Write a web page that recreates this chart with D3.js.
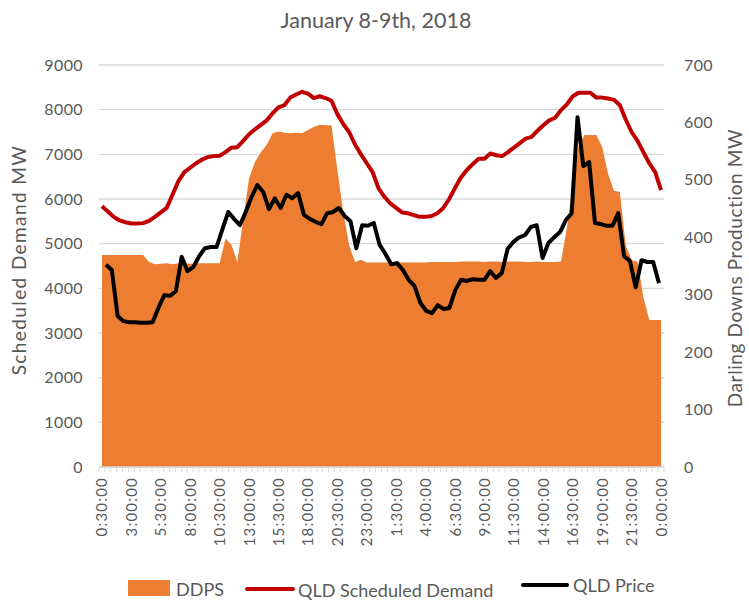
<!DOCTYPE html>
<html>
<head>
<meta charset="utf-8">
<script src="https://cdn.jsdelivr.net/npm/d3@7"></script>
<style>
  html, body { margin: 0; padding: 0; background: #ffffff; }
  svg { display: block; font-family: "Lato", "Open Sans", sans-serif; }
</style>
</head>
<body>
<svg id="chart" width="749" height="600"></svg>
<script>
const categories = [
  "0:30:00","1:00:00","1:30:00","2:00:00","2:30:00","3:00:00","3:30:00","4:00:00","4:30:00","5:00:00",
  "5:30:00","6:00:00","6:30:00","7:00:00","7:30:00","8:00:00","8:30:00","9:00:00","9:30:00","10:00:00",
  "10:30:00","11:00:00","11:30:00","12:00:00","12:30:00","13:00:00","13:30:00","14:00:00","14:30:00","15:00:00",
  "15:30:00","16:00:00","16:30:00","17:00:00","17:30:00","18:00:00","18:30:00","19:00:00","19:30:00","20:00:00",
  "20:30:00","21:00:00","21:30:00","22:00:00","22:30:00","23:00:00","23:30:00","0:00:00","0:30:00","1:00:00",
  "1:30:00","2:00:00","2:30:00","3:00:00","3:30:00","4:00:00","4:30:00","5:00:00","5:30:00","6:00:00",
  "6:30:00","7:00:00","7:30:00","8:00:00","8:30:00","9:00:00","9:30:00","10:00:00","10:30:00","11:00:00",
  "11:30:00","12:00:00","12:30:00","13:00:00","13:30:00","14:00:00","14:30:00","15:00:00","15:30:00","16:00:00",
  "16:30:00","17:00:00","17:30:00","18:00:00","18:30:00","19:00:00","19:30:00","20:00:00","20:30:00","21:00:00",
  "21:30:00","22:00:00","22:30:00","23:00:00","23:30:00","0:00:00"
];

// Darling Downs Power Station output (MW, right axis)
const ddps = [
  369,369,369,369,369,369,369,369,357,353,
  354,355,353,355,355,354,355,355,355,355,
  355,398,387,357,430,503,531,548,561,581,
  584,582,581,582,581,587,592,596,595,595,
  517,444,386,357,361,356,356,356,356,356,
  356,356,356,356,356,356,357,357,357,357,
  357,358,358,358,358,357,358,358,357,358,
  358,358,357,357,358,357,357,357,358,416,
  491,560,578,578,578,557,510,481,479,386,
  360,358,296,256,256,256
];

// QLD scheduled demand (MW, left axis)
const demand = [
  5840,5720,5600,5520,5480,5450,5450,5460,5510,5600,
  5700,5800,6100,6400,6600,6700,6800,6880,6940,6960,
  6970,7050,7150,7160,7300,7450,7560,7660,7760,7920,
  8050,8100,8270,8340,8400,8360,8260,8300,8260,8200,
  7900,7680,7500,7220,7000,6800,6600,6240,6050,5900,
  5800,5700,5680,5640,5600,5600,5620,5680,5800,6000,
  6250,6480,6650,6780,6900,6900,7020,6980,6960,7050,
  7150,7250,7350,7390,7530,7650,7760,7820,7990,8120,
  8300,8380,8380,8380,8270,8270,8250,8220,8100,7780,
  7500,7300,7050,6800,6600,6200
];

// QLD price (plotted against the secondary axis)
const price = [
  352,343,263,254,252,252,251,251,252,277,
  299,298,306,366,341,348,367,381,383,383,
  414,444,432,421,444,470,491,479,449,468,
  451,474,468,477,439,432,427,423,442,444,
  451,437,428,381,421,420,425,387,371,353,
  355,343,326,315,286,272,268,282,275,277,
  308,326,324,327,326,326,341,329,338,380,
  392,400,404,418,421,364,390,400,409,430,
  442,609,524,531,425,423,420,420,442,367,
  359,313,360,357,357,320
];

const leftTicks = [0,1000,2000,3000,4000,5000,6000,7000,8000,9000];
const rightTicks = [0,100,200,300,400,500,600,700];
const labelEvery = 5;

const svg = d3.select("#chart");
const plot = {left: 99, right: 664, top: 65, bottom: 467};
const textColor = "#595959";

const idx = d3.range(categories.length);
const x = d3.scaleBand().domain(idx).range([plot.left, plot.right]);
const cx = i => x(i) + x.bandwidth() / 2;
const xp = d3.scalePoint().domain(idx).range([106, 659]);
const yL = d3.scaleLinear().domain([0, 9000]).range([plot.bottom, plot.top]);
const yR = d3.scaleLinear().domain([0, 700]).range([plot.bottom, plot.top]);

// gridlines
svg.append("g").selectAll("line").data(leftTicks).join("line")
  .attr("x1", plot.left).attr("x2", plot.right)
  .attr("y1", d => yL(d)).attr("y2", d => yL(d))
  .attr("stroke", "#d9d9d9").attr("stroke-width", 1.3);

// area
svg.append("path").datum(ddps)
  .attr("d", d3.area().x((d, i) => cx(i)).y0(plot.bottom).y1(d => yR(d)))
  .attr("fill", "#ED7D31");

// x axis line and ticks
svg.append("line").attr("x1", plot.left).attr("x2", plot.right)
  .attr("y1", plot.bottom).attr("y2", plot.bottom)
  .attr("stroke", "#d9d9d9").attr("stroke-width", 1.3);
svg.append("g").selectAll("line").data(d3.range(categories.length + 1)).join("line")
  .attr("x1", i => plot.left + i * x.bandwidth()).attr("x2", i => plot.left + i * x.bandwidth())
  .attr("y1", plot.bottom).attr("y2", plot.bottom + 5)
  .attr("stroke", "#d9d9d9").attr("stroke-width", 1);

// demand line
svg.append("path").datum(demand)
  .attr("d", d3.line().x((d, i) => cx(i)).y(d => yL(d)))
  .attr("fill", "none").attr("stroke", "#C00000").attr("stroke-width", 4)
  .attr("stroke-linejoin", "round");

// price line
svg.append("path").datum(price)
  .attr("d", d3.line().x((d, i) => xp(i)).y(d => yR(d)))
  .attr("fill", "none").attr("stroke", "#000000").attr("stroke-width", 4)
  .attr("stroke-linejoin", "round");

// left tick labels
svg.append("g").selectAll("text").data(leftTicks).join("text")
  .attr("x", 83).attr("y", d => yL(d)).attr("dy", "0.35em")
  .attr("text-anchor", "end").attr("font-size", 16).attr("letter-spacing", 0.4).attr("fill", textColor)
  .text(d => d);

// right tick labels
svg.append("g").selectAll("text").data(rightTicks).join("text")
  .attr("x", 684).attr("y", d => yR(d)).attr("dy", "0.35em")
  .attr("text-anchor", "start").attr("font-size", 16).attr("letter-spacing", 0.4).attr("fill", textColor)
  .text(d => d);

// x labels
svg.append("g").selectAll("text").data(idx.filter(i => i % labelEvery === 0)).join("text")
  .attr("transform", i => `translate(${cx(i) + 5.5},${plot.bottom + 10}) rotate(-90)`)
  .attr("text-anchor", "end").attr("font-size", 15).attr("letter-spacing", 1.2).attr("fill", textColor)
  .text(i => categories[i]);

// title
svg.append("text").attr("x", 376).attr("y", 28).attr("text-anchor", "middle")
  .attr("font-size", 21.5).attr("fill", textColor).text("January 8-9th, 2018");

// axis titles
svg.append("text").attr("transform", `translate(26,${(plot.top + plot.bottom) / 2 - 6}) rotate(-90)`)
  .attr("text-anchor", "middle").attr("font-size", 19).attr("letter-spacing", 1.4).attr("fill", textColor)
  .text("Scheduled Demand MW");
svg.append("text").attr("transform", `translate(742,${(plot.top + plot.bottom) / 2 + 2}) rotate(-90)`)
  .attr("text-anchor", "middle").attr("font-size", 19).attr("letter-spacing", 0.6).attr("fill", textColor)
  .text("Darling Downs Production MW");

// legend
const lg = svg.append("g").attr("font-size", 18).attr("fill", textColor);
lg.append("rect").attr("x", 128).attr("y", 580).attr("width", 42).attr("height", 16).attr("fill", "#ED7D31");
lg.append("text").attr("x", 176).attr("y", 596).text("DDPS");
lg.append("line").attr("x1", 247).attr("x2", 293).attr("y1", 589).attr("y2", 589)
  .attr("stroke", "#C00000").attr("stroke-width", 4).attr("stroke-linecap", "round");
lg.append("text").attr("x", 298).attr("y", 597).text("QLD Scheduled Demand");
lg.append("line").attr("x1", 523).attr("x2", 567).attr("y1", 585).attr("y2", 585)
  .attr("stroke", "#000000").attr("stroke-width", 4).attr("stroke-linecap", "round");
lg.append("text").attr("x", 573).attr("y", 592).text("QLD Price");
</script>
</body>
</html>
